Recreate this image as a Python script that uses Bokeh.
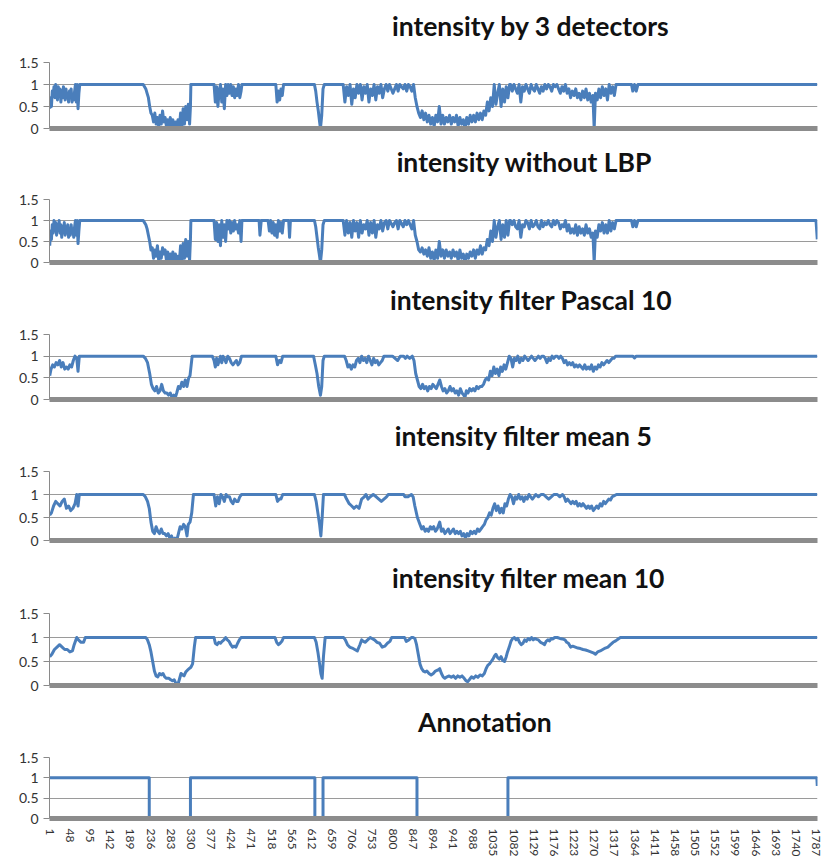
from bokeh.plotting import figure
from bokeh.layouts import column
from bokeh.models import Range1d, FixedTicker, NumeralTickFormatter
from bokeh.core.properties import value
from bokeh.embed import file_html
from bokeh.resources import INLINE

N = 1790
x_tick_labels = [1, 48, 95, 142, 189, 236, 283, 330, 377, 424, 471, 518, 565, 612, 659, 706,
                 753, 800, 847, 894, 941, 988, 1035, 1082, 1129, 1176, 1223, 1270, 1317, 1364,
                 1411, 1458, 1505, 1552, 1599, 1646, 1693, 1740, 1787]
y_ticks = [0, 0.5, 1, 1.5]

titles = ["intensity by 3 detectors", "intensity without LBP", "intensity filter Pascal 10",
          "intensity filter mean 5", "intensity filter mean 10", "Annotation"]

det3_pts = [
    (1, 0.45), (3, 0.7), (5, 0.5), (7, 0.85), (9, 0.75), (11, 0.95), (13, 0.7), (15, 1.0), (17, 0.8),
    (19, 0.65), (21, 0.95), (23, 0.75), (25, 0.9), (27, 0.6), (29, 0.85), (31, 0.7), (33, 0.95),
    (35, 0.75), (37, 0.65), (39, 0.9), (41, 0.7), (43, 0.8), (45, 0.6), (47, 0.85), (49, 0.7),
    (51, 0.9), (53, 0.6), (55, 0.75), (57, 0.65), (59, 0.85), (61, 1.0), (63, 0.6), (65, 1.0),
    (67, 0.45), (69, 0.8), (71, 1.0),
    (219, 1.0), (222, 0.95), (225, 0.9), (228, 0.8), (231, 0.7), (234, 0.5), (237, 0.35), (240, 0.3),
    (243, 0.15), (246, 0.35), (249, 0.1), (252, 0.25), (255, 0.05), (258, 0.3), (261, 0.1), (264, 0.4),
    (267, 0.15), (270, 0.25), (273, 0.05), (276, 0.2), (279, 0.0), (282, 0.25), (285, 0.05), (288, 0.2),
    (291, 0.0), (294, 0.15), (297, 0.05), (300, 0.2), (303, 0.0), (306, 0.35), (309, 0.05), (312, 0.45),
    (315, 0.1), (318, 0.5), (321, 0.2), (324, 0.55), (327, 0.1), (329, 0.5), (330, 1.0),
    (384, 1.0), (387, 0.6), (390, 0.95), (393, 0.5), (396, 0.85), (399, 1.0), (402, 0.6), (405, 0.9),
    (408, 0.45), (411, 1.0), (414, 0.75), (417, 1.0), (420, 0.8), (423, 1.0), (426, 0.75), (429, 0.95),
    (432, 0.7), (435, 0.9), (438, 0.75), (441, 1.0), (444, 0.7), (447, 0.85), (449, 1.0),
    (528, 1.0), (531, 0.6), (534, 0.85), (537, 0.65), (540, 0.9), (543, 0.75), (546, 1.0),
    (618, 1.0), (621, 0.85), (624, 0.6), (627, 0.4), (630, 0.15), (632, 0.0), (635, 0.3), (638, 0.9),
    (641, 1.0),
    (685, 1.0), (689, 0.6), (693, 0.95), (697, 0.75), (701, 1.0), (705, 0.55), (709, 0.9), (713, 0.7),
    (717, 1.0), (721, 0.8), (725, 1.0), (729, 0.65), (733, 0.95), (737, 0.8), (741, 1.0), (745, 0.6),
    (749, 0.9), (753, 0.75), (757, 1.0), (761, 0.65), (765, 0.95), (769, 0.8), (773, 1.0), (777, 0.7),
    (781, 0.9), (785, 1.0), (789, 0.85), (793, 1.0), (801, 0.8), (805, 0.9), (809, 1.0), (813, 0.85),
    (817, 1.0), (825, 0.9), (829, 1.0), (833, 0.85), (837, 1.0), (841, 0.95), (845, 0.85), (849, 1.0),
    (853, 0.7), (857, 0.5),
    (861, 0.35), (865, 0.25), (869, 0.4), (873, 0.2), (877, 0.35), (881, 0.15), (885, 0.3), (889, 0.1),
    (893, 0.25), (897, 0.05), (901, 0.3), (905, 0.15), (909, 0.5), (913, 0.1), (917, 0.3), (921, 0.1),
    (925, 0.25), (929, 0.15), (933, 0.3), (937, 0.1), (941, 0.25), (945, 0.15), (949, 0.3), (953, 0.05),
    (957, 0.25), (961, 0.1), (965, 0.2), (969, 0.0), (973, 0.25), (977, 0.1), (981, 0.3), (985, 0.15),
    (989, 0.3), (993, 0.15), (997, 0.35), (1001, 0.2), (1005, 0.35), (1009, 0.2), (1013, 0.4),
    (1017, 0.3), (1021, 0.6), (1025, 0.4), (1029, 0.7), (1033, 0.5), (1037, 1.0), (1041, 0.55),
    (1045, 0.8), (1049, 1.0), (1053, 0.5), (1057, 0.9), (1061, 0.6), (1065, 0.95), (1069, 0.7),
    (1073, 1.0),
    (1075, 1.0), (1079, 0.85), (1083, 1.0), (1087, 0.9), (1091, 0.8), (1095, 1.0), (1099, 0.6),
    (1103, 0.95), (1107, 0.85), (1111, 1.0), (1115, 0.9), (1119, 0.8), (1123, 1.0), (1127, 0.9),
    (1131, 0.85), (1135, 1.0), (1139, 0.9), (1143, 0.8), (1147, 0.95), (1151, 0.85), (1155, 1.0),
    (1159, 0.9), (1163, 1.0), (1167, 0.95), (1171, 0.85), (1175, 1.0), (1179, 0.95), (1183, 1.0),
    (1187, 0.9), (1191, 0.8), (1195, 0.95), (1199, 0.85), (1203, 1.0), (1207, 0.8), (1211, 0.9),
    (1215, 0.7), (1219, 0.85), (1223, 0.75), (1227, 0.9), (1231, 0.7), (1235, 0.8), (1239, 0.65),
    (1243, 0.85), (1247, 0.7), (1251, 0.9), (1255, 0.65), (1259, 0.8), (1263, 0.6), (1267, 0.75),
    (1270, 0.0), (1273, 0.8), (1277, 0.65), (1281, 0.9), (1285, 0.7), (1289, 0.95), (1293, 0.75),
    (1297, 0.9), (1301, 0.65), (1305, 1.0), (1309, 0.8), (1313, 0.95), (1317, 0.75), (1321, 1.0),
    (1323, 1.0), (1357, 1.0), (1360, 0.85), (1364, 1.0), (1368, 0.85), (1372, 1.0), (1790, 1.0),
]

nolbp_pts = [
    (1, 0.4), (3, 0.75), (5, 0.55), (7, 0.9), (9, 0.7), (11, 1.0), (13, 0.75), (15, 0.95), (17, 0.65),
    (19, 0.9), (21, 0.8), (23, 1.0), (25, 0.7), (27, 0.9), (29, 0.6), (31, 0.85), (33, 0.75), (35, 0.95),
    (37, 0.65), (39, 0.85), (41, 0.7), (43, 0.9), (45, 0.6), (47, 0.8), (49, 0.65), (51, 0.9), (53, 0.7),
    (55, 0.8), (57, 0.6), (59, 0.85), (61, 1.0), (63, 0.65), (65, 1.0), (67, 0.45), (69, 0.75), (71, 1.0),
    (219, 1.0), (222, 0.95), (225, 0.9), (228, 0.8), (231, 0.65), (234, 0.5), (237, 0.3), (240, 0.35),
    (243, 0.1), (246, 0.3), (249, 0.15), (252, 0.4), (255, 0.05), (258, 0.25), (261, 0.1), (264, 0.35),
    (267, 0.2), (270, 0.3), (273, 0.05), (276, 0.25), (279, 0.0), (282, 0.2), (285, 0.05), (288, 0.25),
    (291, 0.0), (294, 0.2), (297, 0.05), (300, 0.15), (303, 0.0), (306, 0.4), (309, 0.05), (312, 0.45),
    (315, 0.1), (318, 0.55), (321, 0.15), (324, 0.5), (327, 0.05), (329, 0.55), (330, 1.0),
    (384, 1.0), (387, 0.55), (390, 0.95), (393, 0.5), (396, 0.9), (399, 0.4), (402, 1.0), (405, 0.6),
    (408, 0.9), (411, 0.5), (414, 1.0), (417, 0.8), (420, 1.0), (423, 0.7), (426, 0.95), (429, 0.75),
    (432, 1.0), (435, 0.8), (438, 0.9), (441, 0.7), (444, 1.0), (447, 0.5), (449, 1.0),
    (489, 1.0), (491, 0.65), (494, 1.0),
    (510, 1.0), (513, 0.75), (516, 1.0), (519, 0.7), (522, 0.95), (525, 0.65), (528, 0.9), (531, 0.6),
    (534, 1.0), (537, 0.75), (540, 0.95), (543, 0.7), (546, 1.0), (558, 1.0), (560, 0.6), (562, 1.0),
    (618, 1.0), (621, 0.85), (624, 0.6), (627, 0.35), (630, 0.15), (632, 0.0), (635, 0.3), (638, 0.9),
    (641, 1.0),
    (685, 1.0), (689, 0.65), (693, 1.0), (697, 0.7), (701, 0.95), (705, 0.6), (709, 1.0), (713, 0.75),
    (717, 0.95), (721, 0.6), (725, 1.0), (729, 0.7), (733, 0.9), (737, 0.8), (741, 1.0), (745, 0.65),
    (749, 0.95), (753, 0.7), (757, 1.0), (761, 0.6), (765, 0.9), (769, 0.8), (773, 1.0), (777, 0.75),
    (781, 0.95), (785, 1.0), (789, 0.8), (793, 1.0), (801, 0.85), (805, 0.95), (809, 1.0), (813, 0.8),
    (817, 1.0), (825, 0.85), (829, 1.0), (833, 0.9), (837, 1.0), (841, 0.9), (845, 0.8), (849, 1.0),
    (853, 0.65), (857, 0.5),
    (861, 0.3), (865, 0.25), (869, 0.35), (873, 0.2), (877, 0.3), (881, 0.15), (885, 0.35), (889, 0.1),
    (893, 0.25), (897, 0.05), (901, 0.3), (905, 0.1), (909, 0.5), (913, 0.15), (917, 0.3), (921, 0.1),
    (925, 0.3), (929, 0.15), (933, 0.25), (937, 0.1), (941, 0.3), (945, 0.15), (949, 0.25), (953, 0.05),
    (957, 0.3), (961, 0.1), (965, 0.2), (969, 0.0), (973, 0.2), (977, 0.1), (981, 0.25), (985, 0.15),
    (989, 0.3), (993, 0.1), (997, 0.3), (1001, 0.2), (1005, 0.4), (1009, 0.2), (1013, 0.35),
    (1017, 0.3), (1021, 0.55), (1025, 0.4), (1029, 0.75), (1033, 0.5), (1037, 1.0), (1041, 0.6),
    (1045, 0.85), (1049, 1.0), (1053, 0.55), (1057, 0.9), (1061, 0.6), (1065, 1.0), (1069, 0.65),
    (1073, 1.0),
    (1075, 1.0), (1079, 0.9), (1083, 1.0), (1087, 0.85), (1091, 0.8), (1095, 1.0), (1099, 0.6),
    (1103, 0.9), (1107, 0.85), (1111, 1.0), (1115, 0.95), (1119, 0.8), (1123, 1.0), (1127, 0.85),
    (1131, 0.9), (1135, 1.0), (1139, 0.85), (1143, 0.8), (1147, 1.0), (1151, 0.85), (1155, 0.95),
    (1159, 0.9), (1163, 1.0), (1167, 0.9), (1171, 0.85), (1175, 1.0), (1179, 0.9), (1183, 1.0),
    (1187, 0.95), (1191, 0.8), (1195, 0.9), (1199, 0.85), (1203, 1.0), (1207, 0.75), (1211, 0.9),
    (1215, 0.7), (1219, 0.8), (1223, 0.7), (1227, 0.9), (1231, 0.65), (1235, 0.85), (1239, 0.7),
    (1243, 0.8), (1247, 0.65), (1251, 0.9), (1255, 0.7), (1259, 0.8), (1263, 0.6), (1267, 0.7),
    (1270, 0.0), (1273, 0.75), (1277, 0.6), (1281, 0.9), (1285, 0.75), (1289, 0.95), (1293, 0.7),
    (1297, 0.9), (1301, 0.7), (1305, 1.0), (1309, 0.75), (1313, 0.95), (1317, 0.8), (1321, 1.0),
    (1323, 1.0), (1357, 1.0), (1360, 0.85), (1364, 1.0), (1368, 0.85), (1372, 1.0), (1787, 1.0),
    (1790, 0.55),
]

pascal10_pts = [
    (1, 0.55), (4, 0.7), (8, 0.8), (12, 0.75), (16, 0.85), (20, 0.8), (24, 0.9), (28, 0.75), (32, 0.85),
    (36, 0.7), (40, 0.75), (44, 0.7), (48, 0.8), (52, 0.75), (56, 0.9), (60, 1.0), (64, 0.95), (67, 0.65),
    (70, 1.0),
    (219, 1.0), (224, 0.95), (229, 0.85), (234, 0.6), (238, 0.35), (242, 0.25), (246, 0.2), (250, 0.3),
    (254, 0.15), (258, 0.2), (262, 0.35), (266, 0.2), (270, 0.15), (274, 0.15), (278, 0.1), (282, 0.15),
    (286, 0.05), (290, 0.1), (293, 0.02), (297, 0.15), (301, 0.3), (305, 0.25), (309, 0.4), (313, 0.3),
    (317, 0.45), (321, 0.3), (325, 0.5), (328, 0.55), (333, 1.0),
    (380, 1.0), (384, 0.9), (387, 0.75), (390, 0.95), (393, 0.8), (396, 0.9), (399, 1.0), (402, 0.85),
    (405, 1.0), (408, 0.95), (412, 0.85), (416, 1.0), (420, 0.95), (424, 0.85), (428, 0.8), (432, 0.85),
    (436, 0.9), (440, 0.8), (444, 0.85), (448, 1.0),
    (528, 1.0), (532, 0.8), (536, 0.9), (540, 0.85), (544, 1.0),
    (616, 1.0), (620, 0.8), (624, 0.6), (628, 0.3), (632, 0.1), (635, 0.3), (638, 0.9), (641, 1.0),
    (688, 1.0), (692, 0.9), (696, 0.75), (700, 0.8), (704, 0.7), (708, 0.8), (712, 0.75), (716, 0.9),
    (720, 0.95), (724, 0.85), (728, 1.0), (732, 0.9), (736, 0.95), (740, 0.85), (744, 1.0), (748, 0.9),
    (752, 0.8), (756, 0.95), (760, 0.85), (764, 0.9), (768, 0.8), (772, 0.85), (776, 0.9), (780, 1.0),
    (800, 1.0), (806, 0.95), (812, 0.9), (818, 1.0), (826, 1.0), (830, 0.95), (834, 1.0), (840, 0.95),
    (846, 1.0), (850, 0.9), (854, 0.6), (858, 0.45), (862, 0.3), (866, 0.25), (870, 0.35), (874, 0.25),
    (878, 0.3), (882, 0.2), (886, 0.3), (890, 0.25), (894, 0.35), (898, 0.3), (902, 0.25), (906, 0.35),
    (910, 0.45), (914, 0.3), (918, 0.2), (922, 0.25), (926, 0.15), (930, 0.2), (934, 0.3), (938, 0.2),
    (942, 0.25), (946, 0.15), (950, 0.2), (954, 0.1), (958, 0.25), (962, 0.15), (966, 0.1), (969, 0.05),
    (972, 0.2), (976, 0.15), (980, 0.25), (984, 0.2), (988, 0.25), (992, 0.2), (996, 0.3), (1000, 0.25),
    (1004, 0.3), (1008, 0.3), (1012, 0.35), (1016, 0.45), (1020, 0.5), (1024, 0.45), (1028, 0.65),
    (1032, 0.55), (1036, 0.75), (1040, 0.6), (1044, 0.7), (1048, 0.55), (1052, 0.75), (1056, 0.65),
    (1060, 0.8), (1064, 0.7), (1068, 0.85), (1072, 1.0), (1076, 0.95), (1080, 0.75), (1084, 0.95),
    (1088, 0.9), (1092, 1.0), (1096, 0.85), (1100, 0.95), (1104, 0.9), (1108, 1.0), (1112, 0.95),
    (1116, 0.9), (1120, 0.95), (1124, 1.0), (1128, 0.95), (1132, 0.9), (1136, 0.95), (1140, 1.0),
    (1144, 0.95), (1148, 1.0), (1152, 1.0), (1156, 0.95), (1160, 0.85), (1164, 0.95), (1168, 0.9),
    (1172, 1.0), (1176, 0.95), (1180, 1.0), (1184, 1.0), (1188, 0.95), (1192, 1.0), (1196, 0.95),
    (1200, 0.85), (1204, 0.9), (1208, 0.8), (1212, 0.85), (1216, 0.8), (1220, 0.85), (1224, 0.75),
    (1228, 0.8), (1232, 0.75), (1236, 0.8), (1240, 0.75), (1244, 0.7), (1248, 0.8), (1252, 0.7),
    (1256, 0.75), (1260, 0.7), (1264, 0.8), (1268, 0.65), (1272, 0.75), (1276, 0.7), (1280, 0.8),
    (1284, 0.75), (1288, 0.85), (1292, 0.8), (1296, 0.85), (1300, 0.9), (1304, 0.85), (1308, 0.9),
    (1312, 0.95), (1316, 0.95), (1320, 1.0), (1360, 1.0), (1364, 0.96), (1368, 1.0), (1790, 1.0),
]

mean5_pts = [
    (1, 0.55), (5, 0.6), (10, 0.75), (15, 0.85), (20, 0.8), (25, 0.75), (30, 0.85), (35, 0.9), (40, 0.7),
    (45, 0.75), (50, 0.65), (55, 0.7), (60, 0.8), (64, 1.0), (67, 0.75), (70, 1.0),
    (219, 1.0), (224, 0.95), (229, 0.85), (233, 0.7), (237, 0.4), (241, 0.2), (245, 0.15), (249, 0.3),
    (253, 0.2), (257, 0.15), (261, 0.25), (265, 0.15), (269, 0.15), (273, 0.1), (277, 0.15), (281, 0.05),
    (285, 0.1), (289, 0.0), (293, 0.05), (297, 0.0), (301, 0.15), (305, 0.3), (309, 0.25), (313, 0.35),
    (317, 0.3), (321, 0.1), (324, 0.35), (328, 0.4), (332, 0.6), (336, 1.0),
    (384, 1.0), (388, 0.75), (392, 0.95), (396, 0.8), (400, 1.0), (404, 0.95), (408, 0.85), (412, 1.0),
    (416, 0.95), (420, 0.95), (424, 0.85), (428, 0.8), (432, 0.9), (436, 0.85), (440, 0.85), (444, 0.95),
    (448, 1.0),
    (528, 1.0), (532, 0.85), (536, 0.9), (540, 0.9), (544, 1.0),
    (618, 1.0), (622, 0.85), (626, 0.6), (630, 0.35), (633, 0.1), (636, 0.5), (639, 1.0),
    (688, 1.0), (693, 0.9), (699, 0.8), (705, 0.75), (710, 0.7), (716, 0.75), (722, 0.7), (728, 0.9),
    (734, 0.95), (738, 1.0), (743, 0.9), (748, 0.95), (755, 1.0), (762, 0.95), (768, 0.9), (774, 0.85),
    (780, 0.9), (786, 0.95), (790, 1.0), (826, 1.0), (829, 0.95), (836, 0.95), (844, 1.0), (848, 0.95),
    (852, 0.75), (858, 0.5), (864, 0.35), (868, 0.25), (872, 0.3), (876, 0.2), (880, 0.25), (884, 0.2),
    (888, 0.3), (892, 0.25), (896, 0.3), (900, 0.2), (904, 0.25), (910, 0.4), (914, 0.2), (918, 0.25),
    (922, 0.15), (926, 0.2), (930, 0.25), (934, 0.15), (938, 0.2), (942, 0.25), (946, 0.15), (950, 0.2),
    (954, 0.15), (958, 0.2), (962, 0.1), (966, 0.15), (970, 0.05), (974, 0.15), (978, 0.1), (982, 0.2),
    (986, 0.15), (990, 0.2), (994, 0.15), (998, 0.25), (1002, 0.2), (1006, 0.25), (1010, 0.3),
    (1014, 0.35), (1018, 0.45), (1022, 0.5), (1026, 0.6), (1030, 0.55), (1034, 0.7), (1038, 0.8),
    (1042, 0.65), (1046, 0.75), (1050, 0.6), (1054, 0.7), (1058, 0.6), (1062, 0.8), (1066, 0.75),
    (1070, 0.9), (1074, 1.0), (1078, 0.95), (1082, 0.8), (1086, 0.95), (1090, 0.9), (1094, 1.0),
    (1098, 0.9), (1102, 0.95), (1106, 0.85), (1110, 0.95), (1114, 0.9), (1118, 1.0), (1122, 0.95),
    (1126, 0.9), (1130, 0.95), (1134, 1.0), (1140, 0.95), (1146, 1.0), (1152, 1.0), (1158, 0.95),
    (1164, 0.9), (1170, 0.95), (1176, 1.0), (1184, 1.0), (1190, 0.95), (1196, 1.0), (1200, 0.95),
    (1204, 0.85), (1208, 0.9), (1212, 0.85), (1216, 0.8), (1220, 0.85), (1224, 0.8), (1228, 0.85),
    (1232, 0.75), (1236, 0.8), (1240, 0.75), (1244, 0.8), (1248, 0.75), (1252, 0.7), (1256, 0.75),
    (1260, 0.7), (1264, 0.75), (1268, 0.65), (1272, 0.7), (1276, 0.75), (1280, 0.7), (1284, 0.8),
    (1288, 0.75), (1292, 0.85), (1296, 0.8), (1300, 0.85), (1304, 0.9), (1308, 0.88), (1312, 0.95),
    (1316, 0.97), (1322, 1.0), (1790, 1.0),
]

mean10_pts = [
    (1, 0.6), (6, 0.65), (12, 0.75), (18, 0.8), (24, 0.85), (30, 0.8), (36, 0.75), (42, 0.75), (48, 0.7),
    (54, 0.72), (58, 0.85), (64, 1.0), (68, 0.95), (74, 0.9), (80, 0.9), (84, 1.0),
    (225, 1.0), (229, 0.95), (233, 0.85), (237, 0.7), (241, 0.5), (245, 0.3), (249, 0.2), (253, 0.18),
    (257, 0.25), (261, 0.22), (265, 0.25), (269, 0.18), (273, 0.15), (279, 0.15), (283, 0.12), (287, 0.1),
    (291, 0.12), (295, 0.05), (299, 0.0), (303, 0.12), (307, 0.25), (311, 0.22), (314, 0.2), (318, 0.28),
    (322, 0.32), (326, 0.35), (330, 0.38), (334, 0.45), (338, 0.8), (341, 1.0),
    (384, 1.0), (387, 0.88), (391, 0.85), (395, 0.9), (399, 0.88), (403, 0.92), (407, 0.95), (411, 1.0),
    (415, 0.95), (419, 0.92), (423, 0.85), (427, 0.8), (431, 0.82), (435, 0.8), (439, 0.88), (443, 0.95),
    (447, 1.0),
    (526, 1.0), (530, 0.9), (534, 0.85), (538, 0.88), (542, 0.92), (546, 1.0),
    (618, 1.0), (622, 0.9), (626, 0.7), (630, 0.45), (633, 0.25), (636, 0.15), (639, 0.6), (643, 1.0),
    (686, 1.0), (690, 0.95), (695, 0.85), (700, 0.8), (706, 0.78), (712, 0.75), (718, 0.72), (724, 0.85),
    (728, 0.95), (732, 0.92), (736, 0.9), (742, 0.95), (748, 1.0), (752, 0.98), (758, 0.95), (764, 0.9),
    (770, 0.88), (776, 0.8), (782, 0.82), (788, 0.88), (794, 0.92), (798, 1.0), (828, 1.0), (832, 0.92),
    (838, 0.95), (844, 1.0),
    (848, 1.0), (852, 0.98), (856, 0.85), (860, 0.65), (864, 0.45), (868, 0.35), (872, 0.3), (876, 0.28),
    (880, 0.3), (885, 0.25), (890, 0.22), (895, 0.25), (900, 0.3), (905, 0.32), (910, 0.35), (914, 0.25),
    (918, 0.18), (922, 0.15), (927, 0.18), (932, 0.2), (937, 0.17), (942, 0.2), (947, 0.15), (952, 0.2),
    (957, 0.17), (962, 0.2), (967, 0.15), (971, 0.1), (975, 0.08), (979, 0.12), (984, 0.18), (989, 0.15),
    (994, 0.2), (999, 0.17), (1004, 0.22), (1009, 0.2), (1014, 0.25), (1018, 0.35), (1022, 0.42),
    (1026, 0.45), (1030, 0.5), (1034, 0.55), (1038, 0.62), (1041, 0.65), (1045, 0.58), (1049, 0.55),
    (1053, 0.6), (1057, 0.52), (1061, 0.5), (1065, 0.6), (1068, 0.7), (1072, 0.8), (1076, 0.92),
    (1080, 0.98), (1084, 1.0), (1088, 0.95), (1092, 0.98), (1096, 0.9), (1100, 0.85), (1104, 0.88),
    (1108, 0.95), (1112, 0.92), (1116, 0.98), (1120, 0.95), (1124, 1.0), (1128, 0.95), (1132, 0.98),
    (1136, 0.96), (1140, 0.95), (1145, 0.9), (1150, 0.88), (1154, 0.85), (1158, 0.92), (1162, 0.95),
    (1166, 0.93), (1170, 0.98), (1174, 0.97), (1178, 1.0), (1184, 1.0), (1190, 0.98), (1196, 0.97),
    (1202, 0.95), (1206, 0.9), (1210, 0.88), (1215, 0.8), (1220, 0.82), (1226, 0.8), (1232, 0.78),
    (1238, 0.77), (1244, 0.75), (1250, 0.74), (1256, 0.72), (1262, 0.7), (1268, 0.68), (1273, 0.65),
    (1278, 0.7), (1284, 0.72), (1290, 0.75), (1296, 0.78), (1302, 0.8), (1308, 0.85), (1314, 0.9),
    (1320, 0.93), (1326, 0.97), (1331, 1.0), (1790, 1.0),
]

annotation_pts = [
    (1, 1.0), (233, 1.0), (233, 0.0), (329, 0.0), (329, 1.0), (619, 1.0), (619, 0.0), (638, 0.0),
    (638, 1.0), (857, 1.0), (857, 0.0), (1069, 0.0), (1069, 1.0), (1789, 1.0), (1790, 0.8),
]

series = [det3_pts, nolbp_pts, pascal10_pts, mean5_pts, mean10_pts, annotation_pts]

# layout (pixels): block height, space above frame, space below frame, title left edge,
# distance from title centre to frame top
fig_heights = [140, 138, 137, 141, 144, 159]
top_borders = [62, 59, 56, 56, 57, 57]
bottom_borders = [12, 16, 16, 16, 15, 40]
title_lefts = [367, 372, 365, 370, 367, 395]
title_gaps = [37, 38, 35, 36, 36, 36]

LEFT = 49
RIGHT = 6
W = 823
PAD = 10          # space kept above the frame inside the chart figure (for the "1.5" label)
BLUE = "#4A7EBB"
FONT = "Lato"

blocks = []
for i, pts in enumerate(series):
    xs = [p[0] for p in pts]
    ys = [p[1] for p in pts]
    last = (i == len(series) - 1)

    # title strip
    th = top_borders[i] - PAD
    t = figure(width=W, height=th, output_backend="svg", toolbar_location=None,
               x_range=Range1d(0, W), y_range=Range1d(0, th),
               x_axis_type=None, y_axis_type=None,
               min_border_left=0, min_border_right=0, min_border_top=0, min_border_bottom=0)
    t.outline_line_color = None
    t.grid.visible = False
    t.text(x=[title_lefts[i]], y=[title_gaps[i] - PAD], text=[titles[i]],
           text_font=value(FONT), text_font_style="bold", text_font_size="26.5px",
           text_color="#111111", text_align="left", text_baseline="middle")
    blocks.append(t)

    # chart
    f = figure(width=W, height=fig_heights[i] - th, output_backend="svg", toolbar_location=None,
               x_range=Range1d(0.5, N + 0.5), y_range=Range1d(0, 1.5),
               min_border_left=LEFT, min_border_right=RIGHT,
               min_border_top=PAD, min_border_bottom=bottom_borders[i])
    f.outline_line_color = None
    f.background_fill_color = "white"
    f.border_fill_color = "white"
    f.xgrid.visible = False
    f.ygrid.ticker = FixedTicker(ticks=y_ticks)
    f.ygrid.grid_line_color = "#9a9a9a"
    f.ygrid.grid_line_width = 1

    f.line(xs, ys, line_color=BLUE, line_width=3, line_join="round")

    ya = f.yaxis[0]
    ya.ticker = FixedTicker(ticks=y_ticks)
    ya.formatter = NumeralTickFormatter(format="0.[0]")
    ya.axis_line_color = "#8a8a8a"
    ya.major_tick_line_color = "#8a8a8a"
    ya.major_tick_out = 6
    ya.major_tick_in = 0
    ya.minor_tick_line_color = None
    ya.major_label_text_font = FONT
    ya.major_label_text_font_size = "14px"
    ya.major_label_text_color = "#333333"
    ya.major_label_standoff = 5

    xa = f.xaxis[0]
    xa.axis_line_color = "#8c8c8c"
    xa.axis_line_width = 5
    xa.major_tick_line_color = None
    xa.minor_tick_line_color = None
    if last:
        xa.ticker = FixedTicker(ticks=x_tick_labels)
        xa.major_label_orientation = "vertical"
        xa.major_label_text_font = FONT
        xa.major_label_text_font_size = "12px"
        xa.major_label_text_color = "#333333"
        xa.major_label_standoff = 4
    else:
        xa.ticker = FixedTicker(ticks=[])
        xa.major_label_standoff = 0
    blocks.append(f)

layout = column(*blocks, spacing=0)
open("out.html", "w").write(file_html(layout, INLINE))
